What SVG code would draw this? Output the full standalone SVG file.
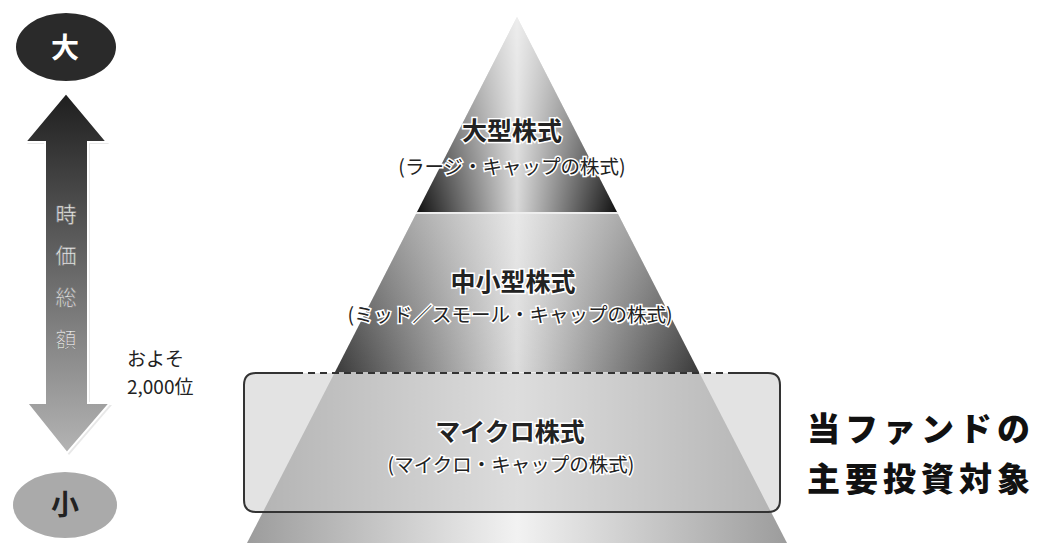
<svg xmlns="http://www.w3.org/2000/svg" width="1039" height="543" viewBox="0 0 1039 543">
<style>
.jp{font-family:"Noto Sans CJK JP","Noto Sans CJK SC",sans-serif;}
.tt{font-weight:bold;fill:#222;stroke:#fff;stroke-width:3;paint-order:stroke;text-anchor:middle;font-size:25px;}
.st{fill:#222;stroke:#fff;stroke-width:3;paint-order:stroke;text-anchor:middle;font-size:19.5px;}
</style>
<defs>
<linearGradient id="h1" gradientUnits="userSpaceOnUse" x1="247" y1="0" x2="787" y2="0">
<stop offset="0.3" stop-color="#000"/><stop offset="0.5" stop-color="#d8d8d8"/><stop offset="0.7" stop-color="#000"/>
</linearGradient>
<linearGradient id="v1" x1="0" y1="0" x2="0" y2="1">
<stop offset="0" stop-color="#fff" stop-opacity="0.55"/><stop offset="1" stop-color="#fff" stop-opacity="0"/>
</linearGradient>
<linearGradient id="h2" gradientUnits="userSpaceOnUse" x1="335" y1="0" x2="699" y2="0">
<stop offset="0" stop-color="#3a3a3a"/><stop offset="0.5" stop-color="#dcdcdc"/><stop offset="1" stop-color="#3a3a3a"/>
</linearGradient>
<linearGradient id="v2" x1="0" y1="0" x2="0" y2="1">
<stop offset="0" stop-color="#fff" stop-opacity="0.35"/><stop offset="1" stop-color="#fff" stop-opacity="0"/>
</linearGradient>
<linearGradient id="h3" gradientUnits="userSpaceOnUse" x1="247" y1="0" x2="787" y2="0">
<stop offset="0" stop-color="#9c9c9c"/><stop offset="0.5" stop-color="#f2f2f2"/><stop offset="1" stop-color="#9c9c9c"/>
</linearGradient>
<linearGradient id="arr" x1="0" y1="0" x2="0" y2="1">
<stop offset="0" stop-color="#1e1e1e"/><stop offset="1" stop-color="#b4b4b4"/>
</linearGradient>
</defs>
<rect width="1039" height="543" fill="#fff"/>
<g id="pyramid">
<polygon points="517,17 417,212 617,212" fill="url(#h1)"/>
<polygon points="517,17 417,212 617,212" fill="url(#v1)"/>
<polygon points="416,214 618,214 699,372 335,372" fill="url(#h2)"/>
<polygon points="416,214 618,214 699,372 335,372" fill="url(#v2)"/>
<polygon points="335,372 699,372 787,543 247,543" fill="url(#h3)"/>
<line x1="416" y1="213" x2="618" y2="213" stroke="#eee" stroke-width="2"/>
</g>
<g id="box">
<rect x="244" y="373" width="536" height="139" rx="12" fill="#c8c8c8" fill-opacity="0.5"/>
<path d="M296,373 L256,373 Q244,373 244,385 L244,500 Q244,512 256,512 L768,512 Q780,512 780,500 L780,385 Q780,373 768,373 L728,373" fill="none" stroke="#333" stroke-width="2"/>
<line x1="296" y1="373" x2="728" y2="373" stroke="#333" stroke-width="2" stroke-dasharray="7,5"/>
</g>
<g id="labels" class="jp">
<text x="512" y="140" class="tt">大型株式</text>
<text x="512" y="174" class="st">(ラージ・キャップの株式)</text>
<text x="513" y="291" class="tt">中小型株式</text>
<text x="510" y="322" class="st">(ミッド／スモール・キャップの株式)</text>
<text x="510" y="441" class="tt">マイクロ株式</text>
<text x="511" y="472" class="st">(マイクロ・キャップの株式)</text>
</g>
<g id="scale">
<ellipse cx="66" cy="47" rx="50" ry="34" fill="#2a2a2a"/>
<text x="65" y="58" class="jp" font-size="28" font-weight="bold" fill="#fff" text-anchor="middle">大</text>
<path d="M68,95 L109,144 L90,144 L90,405 L112,405 L69,455 L29,405 L47,405 L47,144 L27,144 Z" fill="#d8d8d8" opacity="0.6"/>
<path d="M66,93 L107,142 L88,142 L88,403 L110,403 L67,453 L27,403 L45,403 L45,142 L25,142 Z" fill="url(#arr)" stroke="#fff" stroke-width="2"/>
<g class="jp" font-size="21" fill="#eee" stroke="#777" stroke-width="0.6" text-anchor="middle">
<text x="66" y="222">時</text>
<text x="66" y="263">価</text>
<text x="66" y="305">総</text>
<text x="66" y="347">額</text>
</g>
<ellipse cx="65" cy="505" rx="52" ry="33" fill="#aaa"/>
<text x="65" y="515" class="jp" font-size="28" font-weight="bold" fill="#222" text-anchor="middle">小</text>
<text x="127" y="366" class="jp" font-size="19" fill="#222">およそ</text>
<text x="127" y="394" class="jp" font-size="19" fill="#222">2,000位</text>
</g>
<g id="fund" class="jp" font-size="33" font-weight="900" fill="#111">
<text x="807" y="441" letter-spacing="5">当ファンドの</text>
<text x="807" y="491" letter-spacing="5">主要投資対象</text>
</g>
</svg>
